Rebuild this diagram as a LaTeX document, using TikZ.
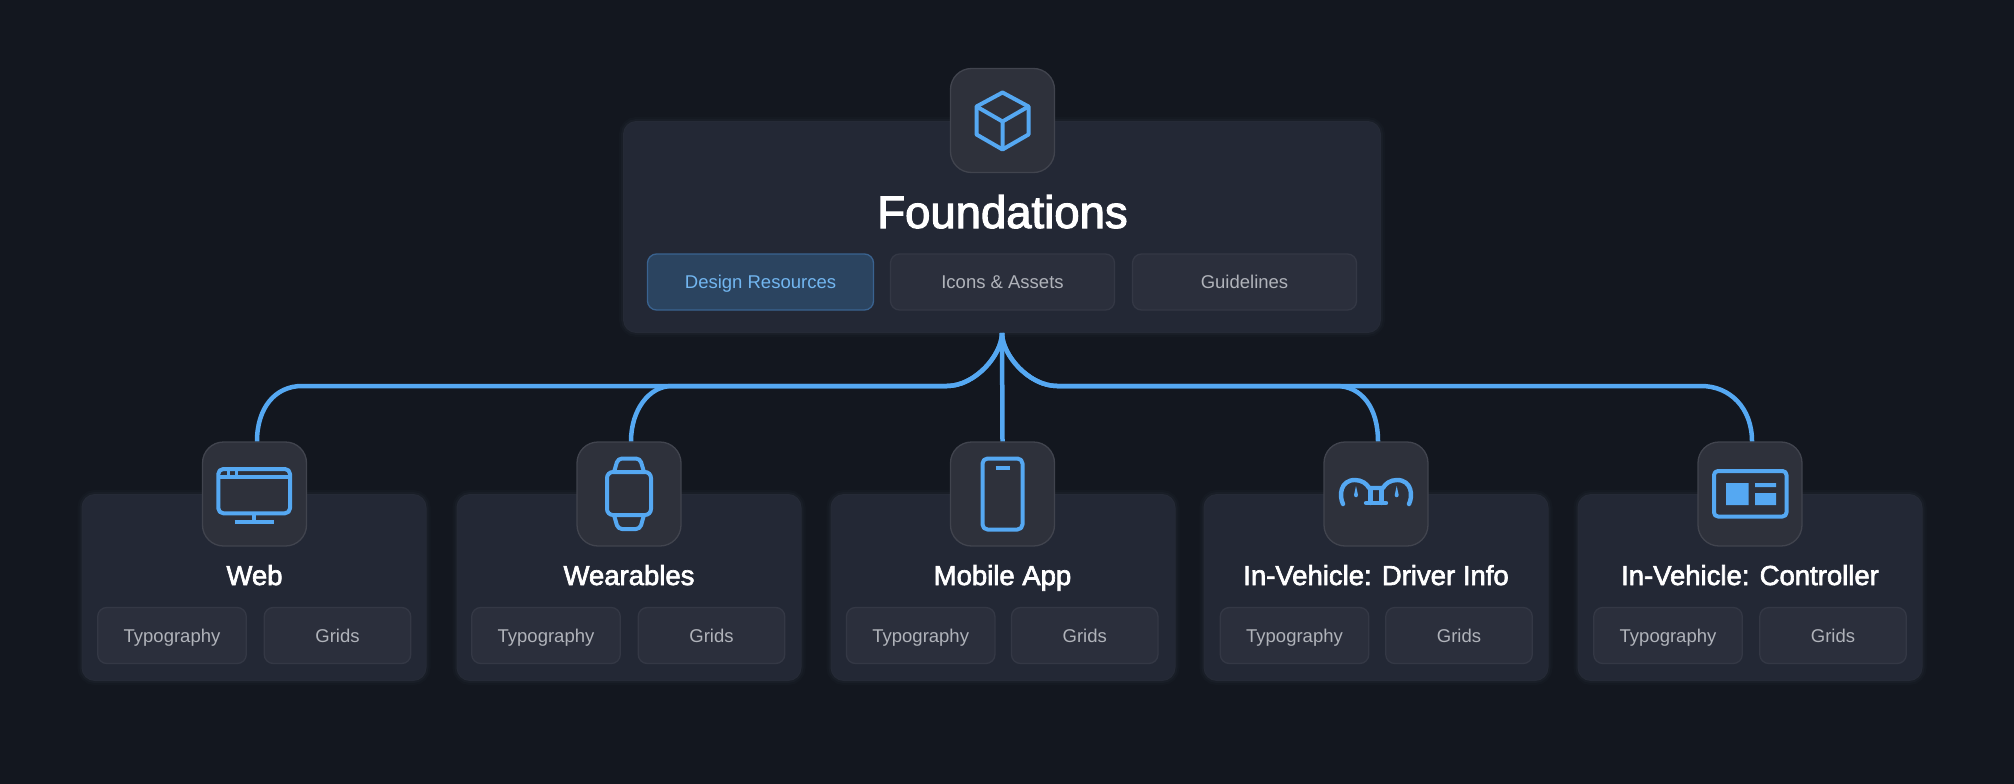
\documentclass[tikz,border=0pt]{standalone}
\usepackage{fontspec}
\setmainfont{Liberation Sans}
\newfontfamily\medfont[FakeBold=2.4]{Liberation Sans}
\usetikzlibrary{calc}
\definecolor{bgc}{HTML}{13171F}
\definecolor{panelc}{HTML}{232835}
\definecolor{paneledge}{HTML}{252A36}
\definecolor{iconc}{HTML}{2E313B}
\definecolor{iconedge}{HTML}{41444E}
\definecolor{chipc}{HTML}{2B2F3C}
\definecolor{chipedge}{HTML}{343845}
\definecolor{actc}{HTML}{2B4460}
\definecolor{actedge}{HTML}{3A6390}
\definecolor{wirec}{HTML}{55A8F2}
\definecolor{acttext}{HTML}{72B6F0}
\definecolor{chiptext}{HTML}{B0B3BA}
\tikzset{
  panel/.style={preaction={draw=panelc,opacity=.18,line width=9pt},preaction={draw=panelc,opacity=.3,line width=5pt},draw=paneledge,line width=1pt,fill=panelc,rounded corners=13pt,inner sep=0pt},
  iconbox/.style={draw=iconedge,line width=1.3pt,fill=iconc,rounded corners=21pt,inner sep=0pt,minimum width=104pt,minimum height=104pt},
  chip/.style={draw=chipedge,line width=1.3pt,fill=chipc,rounded corners=9pt,inner sep=0pt,minimum height=56pt,text=chiptext,text height=13.3pt,text depth=0pt,font=\fontsize{18.5}{20}\selectfont},
  chipact/.style={chip,draw=actedge,fill=actc,text=acttext},
  headline/.style={text=white,anchor=base,inner sep=0pt},
  wire/.style={draw=wirec,line width=4.5pt},
  glyph/.style={draw=wirec,line width=4pt,line join=round},
  glyphfill/.style={fill=wirec,draw=none},
}
\begin{document}
\begin{tikzpicture}[x=1pt,y=-1pt]
\useasboundingbox (0,0) rectangle (2014,784);
\fill[bgc] (0,0) rectangle (2014,784);
% top card
\node[panel,minimum width=757pt,minimum height=211pt] (top) at (1002,227) {};
\node[headline,font=\medfont\fontsize{45.5}{50}\selectfont] (toptitle) at (1002.5,228) {Foundations};
\node[chipact,minimum width=226pt] (design) at (760.5,282) {Design Resources};
\node[chip,minimum width=224pt] (assets) at (1002.5,282) {Icons \& Assets};
\node[chip,minimum width=224pt] (guide) at (1244.5,282) {Guidelines};
\node[iconbox] (topicon) at (1002.5,120.5) {};
% lower cards
\foreach \n/\cx/\ix/\ta/\tb/\t in {
  web/254/254.5/172/337.5/Web,
  wear/629/629/546/711.5/Wearables,
  mobile/1003/1002.5/920.7/1084.7/Mobile App,
  driver/1376/1376/1294.5/1459/In-Vehicle: Driver Info,
  ctrl/1750/1750/1668/1833/In-Vehicle: Controller}{
  \node[panel,minimum width=344pt,minimum height=186pt] (\n card) at (\cx,587.5) {};
  \node[headline,font=\medfont\fontsize{27.5}{30}\selectfont] (\n title) at (\ix,585) {\t};
  \node[chip,minimum width=148.5pt] (\n typo) at (\ta,635.5) {Typography};
  \node[chip,minimum width=146.5pt] (\n grid) at (\tb,635.5) {Grids};
  \node[iconbox] (\n) at (\ix,494) {};
}
% connectors
\draw[wire] (top.south) .. controls (1002,355) and (975,386) .. (947,386) -- (302,386) .. controls (275,386) and (257,408) .. ($(web.north)+(2.5,0)$);
\draw[wire] (top.south) .. controls (1002,355) and (975,386) .. (947,386) -- (672,386) .. controls (649,386) and (631,410) .. ($(wear.north)+(2,0)$);
\draw[wire] (top.south) -- (mobile.north);
\draw[wire] (top.south) .. controls (1002,355) and (1029,386) .. (1057,386) -- (1336,386) .. controls (1362,386) and (1378,408) .. ($(driver.north)+(2,0)$);
\draw[wire] (top.south) .. controls (1002,355) and (1029,386) .. (1057,386) -- (1701,386) .. controls (1730,386) and (1752,408) .. ($(ctrl.north)+(2,0)$);
% cube icon
\begin{scope}[shift={(topicon.center)}]
  \draw[glyph] (0,-28) -- (26,-14) -- (26,14) -- (0,29) -- (-26,14) -- (-26,-14) -- cycle;
  \draw[glyph] (-26,-14) -- (0,1) -- (26,-14) (0,1) -- (0,29);
\end{scope}
% monitor icon
\begin{scope}[shift={(web.center)}]
  \draw[glyph,rounded corners=5pt] (-36.2,-25) rectangle (35.5,19.3);
  \draw[glyph] (-36.2,-17.3) -- (35.5,-17.3);
  \draw[glyph,line width=3pt] (-26,-25) -- (-26,-17.3) (-18.5,-25) -- (-18.5,-17.3);
  \draw[glyph] (-1,19.3) -- (-1,27.7) (-20,27.7) -- (19.5,27.7);
\end{scope}
% watch icon
\begin{scope}[shift={(wear.center)}]
  \draw[glyph,rounded corners=6pt] (-22,-22) rectangle (22,21);
  \draw[glyph,rounded corners=4pt] (-15,-22) -- (-11,-35.5) -- (11,-35.5) -- (15,-22);
  \draw[glyph,rounded corners=4pt] (-15,21) -- (-11,35) -- (11,35) -- (15,21);
\end{scope}
% phone icon
\begin{scope}[shift={(mobile.center)}]
  \draw[glyph,rounded corners=5pt] (-20,-35.5) rectangle (20,35.5);
  \draw[glyph] (-7,-26) -- (7,-26);
\end{scope}
% gauges icon
\begin{scope}[shift={(driver.center)}]
  \draw[glyph,line width=4.4pt,line cap=round] (-33,10) .. controls (-37,2) and (-36,-14) .. (-21,-14) .. controls (-14,-14) and (-9,-10) .. (-7,-6) -- (7,-6) .. controls (9,-10) and (14,-14) .. (21,-14) .. controls (36,-14) and (37,2) .. (33,10);
  \draw[glyph,line width=4.4pt,line cap=round] (-5.5,-6) -- (-5.5,9) (5.5,-6) -- (5.5,9) (-10,9) -- (10,9);
  \fill[glyphfill] (-20,-8) -- (-18,1) .. controls (-18,4) and (-22,4) .. (-22,1) -- cycle (20.7,-8) -- (22.7,1) .. controls (22.7,4) and (18.7,4) .. (18.7,1) -- cycle;
\end{scope}
% dashboard icon
\begin{scope}[shift={(ctrl.center)}]
  \draw[glyph,rounded corners=4pt] (-36,-23) rectangle (36.5,22.5);
  \fill[glyphfill] (-24,-11) rectangle (-1.5,11) (5,-11) rectangle (26,-7) (5,-1) rectangle (26,11);
\end{scope}
\end{tikzpicture}
\end{document}
